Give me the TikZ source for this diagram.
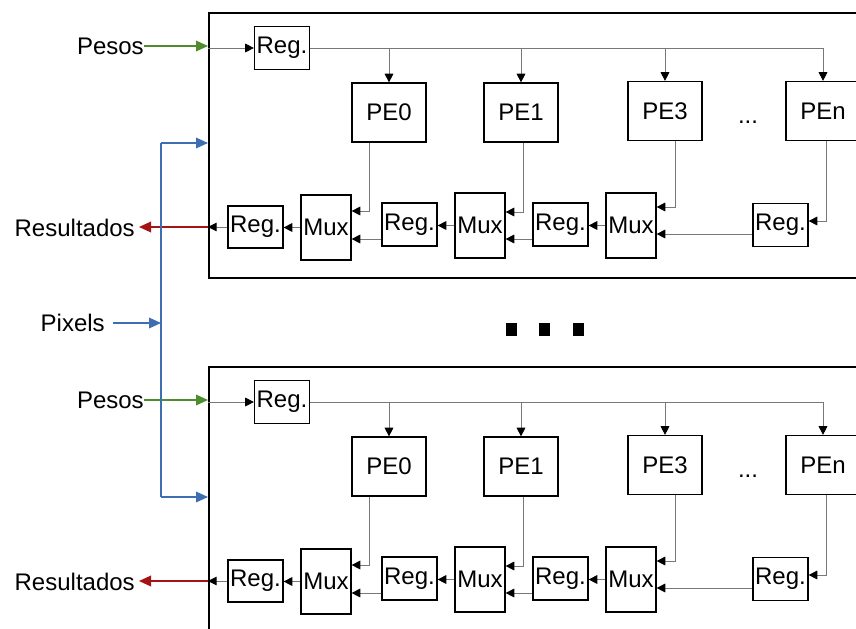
\documentclass[tikz,border=0pt]{standalone}
\usepackage{fontspec}
\setmainfont{Liberation Sans}
\usetikzlibrary{arrows.meta,calc}
\definecolor{pgreen}{RGB}{78,140,46}
\definecolor{pblue}{RGB}{62,110,178}
\definecolor{pred}{RGB}{165,20,20}
\definecolor{lgray}{RGB}{120,120,120}
\begin{document}
\begin{tikzpicture}[x=0.75pt,y=-0.75pt,
  every node/.style={font=\fontsize{18pt}{21pt}\selectfont},
  blk/.style={draw=black, line width=0.9pt, inner sep=0pt},
  regbox/.style={blk, minimum width=41.25pt, minimum height=32.25pt},
  pebox/.style={blk, minimum width=55.5pt, minimum height=44.25pt},
  muxbox/.style={blk, minimum width=37.5pt, minimum height=48.75pt},
  frame/.style={draw=black, line width=1.8pt, inner sep=0pt, minimum width=504pt, minimum height=198.75pt, anchor=north west},
  conn/.style={draw=lgray, line width=0.65pt, -{Triangle[length=6.5pt,width=6.5pt,color=black]}},
  lbl/.style={inner sep=0pt},
  garrow/.style={draw=pgreen, line width=1pt, -{Triangle[length=9pt,width=8pt]}},
  barrow/.style={draw=pblue, line width=1pt, -{Triangle[length=9pt,width=8pt]}},
  bline/.style={draw=pblue, line width=1pt},
  rarrow/.style={draw=pred, line width=1pt, -{Triangle[length=9pt,width=8pt]}}
]
\useasboundingbox (0,0) rectangle (856,628);
\clip (0,0) rectangle (856,628);

\foreach \b/\dy in {a/0,b/354}{
\begin{scope}[shift={(0,\dy)}]
  \node[frame] (fr\b) at (208,12) {};
  \node[regbox] (rw\b) at (282,48) {Reg.};
  \node[pebox] (pa\b) at (389,112.5) {PE0};
  \node[pebox] (pb\b) at (521,112.5) {PE1};
  \node[pebox] (pc\b) at (665,111) {PE3};
  \node[pebox] (pd\b) at (823,111) {PEn};
  \node[lbl] (dots\b) at (748,122) {...};
  \node[regbox, minimum height=31.5pt] (ro\b) at (255.5,227) {Reg.};
  \node[muxbox] (m0\b) at (326,227.5) {Mux};
  \node[regbox] (r1\b) at (409.5,224.5) {Reg.};
  \node[muxbox] (m1\b) at (480,225.5) {Mux};
  \node[regbox] (r2\b) at (560.5,224.5) {Reg.};
  \node[muxbox] (m2\b) at (631,225.5) {Mux};
  \node[regbox] (r3\b) at (780.5,225) {Reg.};
  % weights
  \draw[conn] (fr\b.west |- rw\b.west) -- (rw\b.west);
  \draw[conn] (rw\b.east) -| (pd\b.north);
  \draw[conn] (pa\b.north |- rw\b.east) -- (pa\b.north);
  \draw[conn] (pb\b.north |- rw\b.east) -- (pb\b.north);
  \draw[conn] (pc\b.north |- rw\b.east) -- (pc\b.north);
  % PE outputs
  \draw[conn] ($(pa\b.south)+(-20,0)$) |- ($(m0\b.east)+(0,-16.5)$);
  \draw[conn] ($(pb\b.south)+(2,0)$) |- ($(m1\b.east)+(0,-13.5)$);
  \draw[conn] ($(pc\b.south)+(10,0)$) |- ($(m2\b.east)+(0,-18.5)$);
  \draw[conn] ($(pd\b.south)+(3,0)$) |- ($(r3\b.east)+(0,-4)$);
  % lower inputs
  \coordinate (i0\b) at ($(m0\b.east)+(0,11.5)$);
  \coordinate (i1\b) at ($(m1\b.east)+(0,13.5)$);
  \coordinate (i2\b) at ($(m2\b.east)+(0,8.5)$);
  \draw[conn] (r1\b.west |- i0\b) -- (i0\b);
  \draw[conn] (r2\b.west |- i1\b) -- (i1\b);
  \draw[conn] (r3\b.west |- i2\b) -- (i2\b);
  % mux outputs
  \draw[conn] (m2\b.west) -- (m2\b.west -| r2\b.east);
  \draw[conn] (m1\b.west) -- (m1\b.west -| r1\b.east);
  \draw[conn] (m0\b.west) -- (m0\b.west -| ro\b.east);
  \coordinate (oe\b) at (ro\b.west -| fr\b.west);
  \draw[conn] (ro\b.west) -- (oe\b);
  % left side
  \node[lbl, anchor=east] (pw\b) at (144,46) {Pesos};
  \draw[garrow] (pw\b.east) -- (pw\b.east -| fr\b.west);
  \node[lbl, anchor=east] (res\b) at (135,228) {Resultados};
  \coordinate (re\b) at ([xshift=3pt]res\b.east);
  \draw[rarrow] (oe\b) -- (oe\b -| re\b);
\end{scope}
}

% pixels bus
\coordinate (bt) at (161,143);
\coordinate (bb) at (161,497);
\draw[bline] (bt) -- (bb);
\draw[barrow] (bt) -- (bt -| fra.west);
\draw[barrow] (bb) -- (bb -| frb.west);
\node[lbl, anchor=east] (px) at (105,323) {Pixels};
\draw[barrow] ([xshift=6pt]px.east) -- (px.east -| bt);

% big dots
\fill (505.5,322.5) rectangle (516.5,335.5);
\fill (539,322.5) rectangle (550,335.5);
\fill (572.5,322.5) rectangle (583.5,335.5);
\end{tikzpicture}
\end{document}
